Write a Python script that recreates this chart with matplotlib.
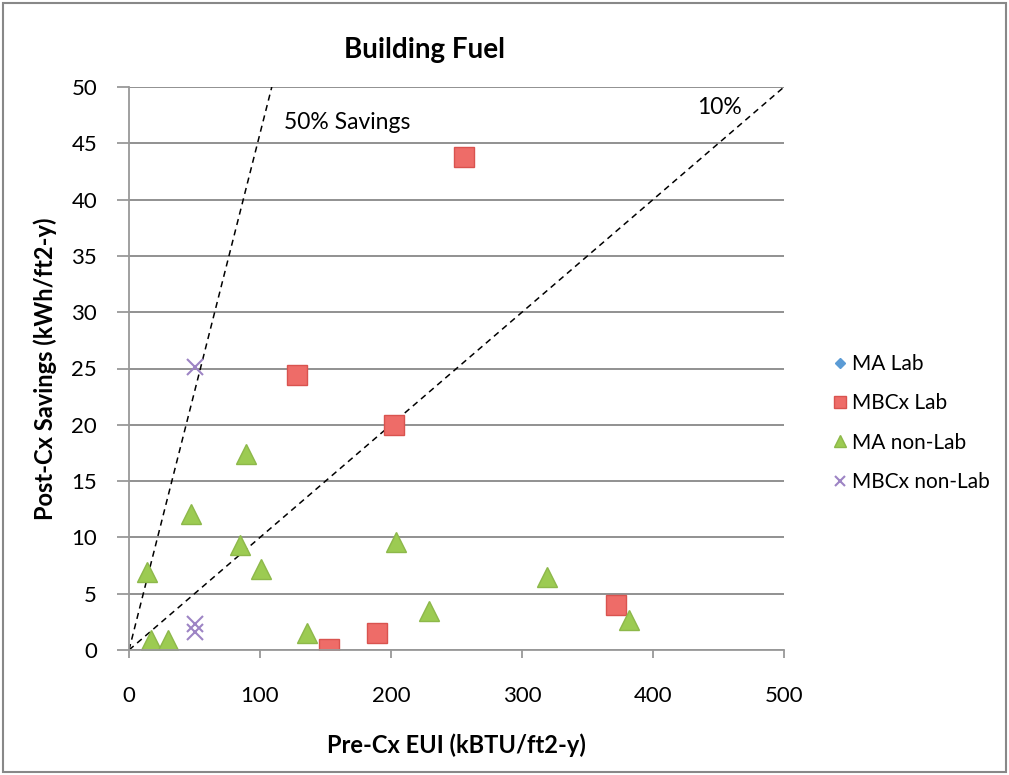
import matplotlib.pyplot as plt
from matplotlib.patches import Rectangle

plt.rcParams['font.family'] = ['Lato', 'DejaVu Sans']

# data
mbcx_lab_x = [256, 128, 202, 153, 189, 372]
mbcx_lab_y = [43.8, 24.4, 20.0, 0.1, 1.5, 4.0]
ma_nonlab_x = [14, 17, 30, 89, 47, 85, 101, 204, 229, 136, 319, 382]
ma_nonlab_y = [6.9, 0.9, 0.9, 17.4, 12.1, 9.3, 7.2, 9.6, 3.5, 1.5, 6.5, 2.7]
mbcx_nonlab_x = [50, 50, 50]
mbcx_nonlab_y = [25.1, 2.3, 1.6]
ma_lab_x = []
ma_lab_y = []

line50_x = [0, 109]
line50_y = [0, 50]
line10_x = [0, 500]
line10_y = [0, 50]

fig = plt.figure(figsize=(10.09, 7.75), dpi=100)
ax = fig.add_axes([129/1009, 1-650/775, (784-129)/1009, (650-87)/775])

ax.plot(line50_x, line50_y, ls='--', color='black', lw=1.1, dashes=(4, 3))
ax.plot(line10_x, line10_y, ls='--', color='black', lw=1.1, dashes=(4, 3))

ax.plot(ma_lab_x, ma_lab_y, 'D', color='#5B9BD5', ms=8, label='MA Lab')
ax.plot(mbcx_lab_x, mbcx_lab_y, 's', color='#EE6C68', mec='#D9534F', ms=14, label='MBCx Lab')
ax.plot(ma_nonlab_x, ma_nonlab_y, '^', color='#9CCB52', mec='#8DB84A', ms=14, label='MA non-Lab')
ax.plot(mbcx_nonlab_x, mbcx_nonlab_y, 'x', color='#9D84C4', mew=1.5, ms=11, label='MBCx non-Lab')

ax.set_xlim(0, 500)
ax.set_ylim(0, 50)
ax.set_xticks(range(0, 501, 100))
ax.set_yticks(range(0, 51, 5))
ax.yaxis.grid(True, color='#888888', lw=1.3)
ax.set_axisbelow(True)
for s in ['top', 'right']:
    ax.spines[s].set_visible(False)
for s in ['left', 'bottom']:
    ax.spines[s].set_color('#999999')
    ax.spines[s].set_linewidth(1.3)
ax.tick_params(axis='both', labelsize=16, color='#999999', width=1.3)
ax.tick_params(axis='x', length=6, pad=20)
ax.tick_params(axis='y', length=9, pad=14)

ax.text(118, 46.3, '50% Savings', fontsize=16.5)
ax.text(434, 47.6, '10%', fontsize=16.5)

fig.text(425/1009, 1-50/775, 'Building Fuel', fontsize=20, fontweight='bold',
         ha='center', va='center')
ax.set_xlabel('Pre-Cx EUI (kBTU/ft2-y)', fontsize=17, fontweight='bold', labelpad=20)
ax.set_ylabel('Post-Cx Savings (kWh/ft2-y)', fontsize=17, fontweight='bold', labelpad=10)

ax.legend(loc='upper left', bbox_to_anchor=(1.057, 0.54), frameon=False, fontsize=15,
          handletextpad=0.05, labelspacing=0.92, handlelength=1.0, markerscale=0.6,
          borderaxespad=0)

fig.patches.append(Rectangle((3/1009, 3/775), 1-6/1009, 1-6/775, transform=fig.transFigure,
                             fill=False, edgecolor='#888888', lw=1.5))

fig.savefig('out.png', dpi=100)
